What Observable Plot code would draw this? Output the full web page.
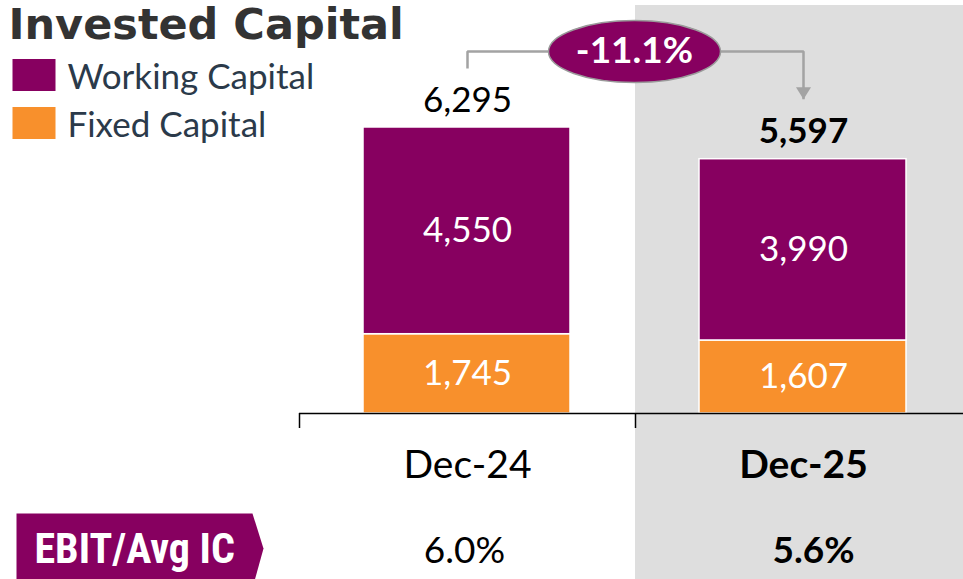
<!DOCTYPE html>
<html><head><meta charset="utf-8">
<script src="https://cdn.jsdelivr.net/npm/d3@7"></script>
<script src="https://cdn.jsdelivr.net/npm/@observablehq/plot@0.6"></script>
<style>body{margin:0;background:#fff;} #chart{width:963px;height:579px;overflow:hidden}</style>
</head><body><div id="chart"></div>
<script>
// ---- data ----
const periods = ["Dec-24", "Dec-25"];
const fixedCapital = [1745, 1607];
const workingCapital = [4550, 3990];
const totals = [6295, 5597];
const ebitAvgIC = ["6.0%", "5.6%"];
const changeLabel = "-11.1%";
const seriesNames = ["Working Capital", "Fixed Capital"];
const titleText = "Invested Capital";
const rowLabel = "EBIT/Avg IC";

// ---- styles ----
const PURPLE = "#870060", ORANGE = "#F8902C", GRAY_BG = "#DEDEDE", CONN = "#A3A3A3";
const FONT = "Lato, sans-serif";
const fmt = d3.format(",");

const rows = periods.flatMap((p, i) => [
  {period: p, series: "Fixed Capital", value: fixedCapital[i]},
  {period: p, series: "Working Capital", value: workingCapital[i]}
]);
const totalRows = periods.map((p, i) => ({period: p, total: totals[i], ebit: ebitAvgIC[i]}));
const stackOrder = ["Fixed Capital", "Working Capital"];
const H = Math.max(...totals) + 1670;
const connector = [
  {period: periods[0], y: totals[0] + 1300},
  {period: periods[0], y: H},
  {period: periods[1], y: H},
  {period: periods[1], y: totals[1] + 1320}
];

// custom symbols
const ellipseSym = (rx, ry) => ({draw(ctx) {
  const k = 0.5523;
  ctx.moveTo(rx, 0);
  ctx.bezierCurveTo(rx, ry * k, rx * k, ry, 0, ry);
  ctx.bezierCurveTo(-rx * k, ry, -rx, ry * k, -rx, 0);
  ctx.bezierCurveTo(-rx, -ry * k, -rx * k, -ry, 0, -ry);
  ctx.bezierCurveTo(rx * k, -ry, rx, -ry * k, rx, 0);
  ctx.closePath();
}});
const rectSym = (w, h) => ({draw(ctx) {
  ctx.moveTo(-w / 2, -h / 2); ctx.lineTo(w / 2, -h / 2); ctx.lineTo(w / 2, h / 2); ctx.lineTo(-w / 2, h / 2); ctx.closePath();
}});
const triDown = {draw(ctx) { ctx.moveTo(-7.5, -12); ctx.lineTo(7.5, -12); ctx.lineTo(0, 0); ctx.closePath(); }};
const badgeSym = {draw(ctx) {
  ctx.moveTo(-123.5, -33); ctx.lineTo(112.5, -33); ctx.lineTo(123.5, 2); ctx.lineTo(113, 40); ctx.lineTo(-123.5, 40); ctx.closePath();
}};

const marks = [
  // shaded background for current period
  Plot.barY([periods[1]], {x: d => d, y1: -4000, y2: 8980, fill: GRAY_BG}),
  // stacked bars
  Plot.barY(rows, Plot.stackY({x: "period", y: "value", fill: "series", order: stackOrder,
    insetLeft: 64, insetRight: 65, stroke: "white", strokeWidth: 1.5})),
  Plot.text(rows, Plot.stackY({x: "period", y: "value", z: "series", order: stackOrder,
    text: d => fmt(d.value), fill: "white", fontSize: 35, fontFamily: FONT})),
  // baseline + ticks
  Plot.ruleY([0], {stroke: "#000", strokeWidth: 1.5}),
  Plot.ruleX(periods, {x: d => d, y1: 0, y2: -330, dx: -168, stroke: "#000", strokeWidth: 1.5}),
  // totals
  Plot.text(totalRows.slice(0, 1), {x: "period", y: "total", text: d => fmt(d.total), lineAnchor: "bottom", dy: -15,
    fontSize: 35, fill: "#000", fontFamily: FONT}),
  Plot.text(totalRows.slice(1), {x: "period", y: "total", text: d => fmt(d.total), lineAnchor: "bottom", dy: -16,
    fontSize: 35, fontWeight: "bold", fill: "#000", fontFamily: FONT}),
  // category labels
  Plot.text(totalRows.slice(0, 1), {x: "period", y: () => 0, text: "period", lineAnchor: "bottom", dy: 64,
    fontSize: 39, fill: "#000", fontFamily: FONT}),
  Plot.text(totalRows.slice(1), {x: "period", y: () => 0, text: "period", lineAnchor: "bottom", dy: 64,
    fontSize: 39, fontWeight: "bold", fill: "#000", fontFamily: FONT}),
  // EBIT/Avg IC row
  Plot.text(totalRows.slice(0, 1), {x: "period", y: () => 0, text: "ebit", lineAnchor: "bottom", dy: 149,
    fontSize: 37, fill: "#000", fontFamily: FONT, dx: -3}),
  Plot.text(totalRows.slice(1), {x: "period", y: () => 0, text: "ebit", lineAnchor: "bottom", dy: 149,
    fontSize: 37, fontWeight: "bold", fill: "#000", fontFamily: FONT, dx: 10}),
  // connector with change bubble
  Plot.line(connector, {x: "period", y: "y", stroke: CONN, strokeWidth: 2.5, strokeLinejoin: "miter", strokeLinecap: "butt"}),
  Plot.dot(connector.slice(3), {x: "period", y: "y", symbol: triDown, fill: CONN, r: 5}),
  Plot.dot([{period: periods[1], y: H}], {x: "period", y: "y", dx: -169, symbol: ellipseSym(86, 31), r: 5,
    fill: PURPLE, stroke: "#9A9A9A", strokeWidth: 1.5}),
  Plot.text([{period: periods[1], y: H, t: changeLabel}], {x: "period", y: "y", dx: -169, text: "t",
    fill: "white", fontWeight: "bold", fontSize: 37, fontFamily: FONT}),
  // title
  Plot.text([titleText], {frameAnchor: "top-left", text: d => d, dx: -291, dy: 38, lineAnchor: "bottom",
    textAnchor: "start", fontSize: 43, fontWeight: "bold", fill: "#333333", fontFamily: "'DejaVu Sans', sans-serif"}),
  // row label badge
  Plot.dot([rowLabel], {frameAnchor: "top-left", dx: -159.5, dy: 546, symbol: badgeSym, r: 5, fill: PURPLE}),
  Plot.text([rowLabel], {frameAnchor: "top-left", text: d => d, dx: -265, dy: 562, lineAnchor: "bottom",
    textAnchor: "start", fontSize: 42, fontWeight: "bold", fill: "white", fontFamily: "'Liberation Sans Narrow', 'Roboto Condensed', sans-serif"})
];
// legend
const legendColors = [PURPLE, ORANGE];
const legendY = [74.5, 122.5];
seriesNames.forEach((name, i) => {
  marks.push(Plot.dot([name], {frameAnchor: "top-left", dx: -265.5, dy: legendY[i], symbol: rectSym(43, 32), r: 5, fill: legendColors[i]}));
  marks.push(Plot.text([name], {frameAnchor: "top-left", text: d => d, dx: -232, dy: legendY[i] + 13.5, lineAnchor: "bottom",
    textAnchor: "start", fontSize: 35, fill: "#2B3A4A", fontFamily: FONT}));
});

const chart = Plot.plot({
  width: 963, height: 579,
  marginLeft: 299, marginRight: 0, marginTop: 0, marginBottom: 166,
  x: {type: "band", domain: periods, range: [299, 971], padding: 0, axis: null},
  y: {domain: [0, 9090], axis: null},
  color: {domain: seriesNames, range: [PURPLE, ORANGE]},
  style: {fontFamily: FONT, background: "#fff", overflow: "hidden"},
  marks
});
document.getElementById("chart").appendChild(chart);
</script>
</body></html>
